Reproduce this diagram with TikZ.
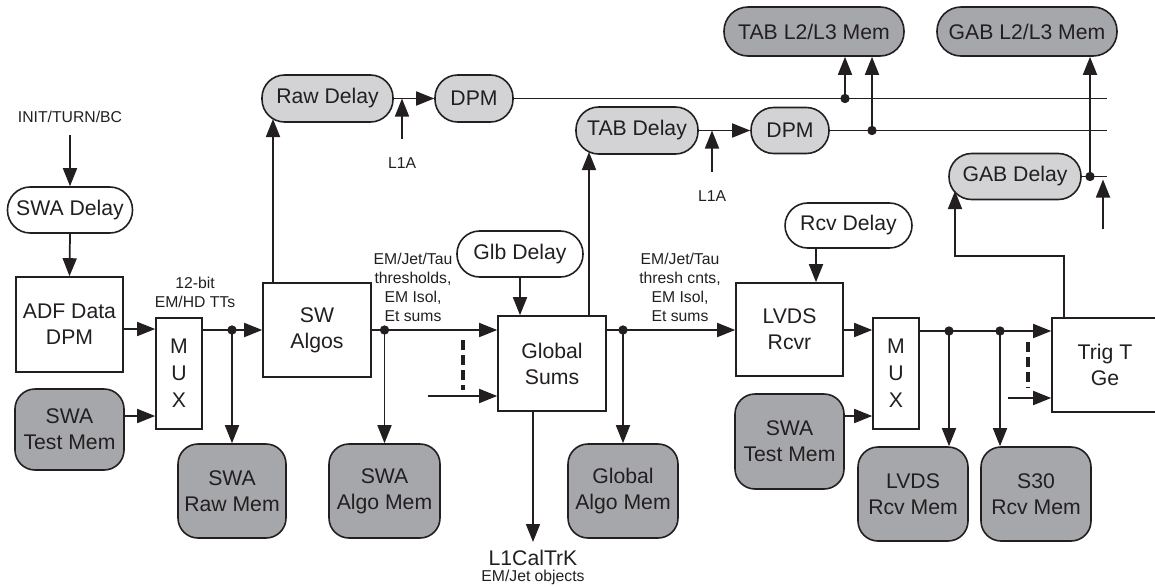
\documentclass[tikz,border=0pt]{standalone}
\usepackage{fontspec}
\setmainfont{Liberation Sans}
\usetikzlibrary{arrows.meta}
\definecolor{ink}{RGB}{35,31,32}
\definecolor{memgray}{RGB}{166,167,170}
\definecolor{delgray}{RGB}{211,211,213}
\begin{document}
\begin{tikzpicture}[x=0.75pt,y=-0.75pt,
  every node/.style={text=ink, font=\fontsize{15.9}{19.5}\selectfont, align=center, inner sep=0pt},
  small/.style={font=\fontsize{11.8}{14.3}\selectfont},
  line/.style={draw=ink, line width=1.3pt},
  arr/.style={line, -{Triangle[length=13.5pt,width=10.5pt]}},
  sqbox/.style={draw=ink, line width=1.2pt, fill=white},
  pillw/.style={draw=ink, line width=1.2pt, fill=white, rounded corners=17pt},
  pilll/.style={draw=ink, line width=1.2pt, fill=delgray, rounded corners=17pt},
  pilld/.style={draw=ink, line width=1.2pt, fill=memgray, rounded corners=18pt},
  membox/.style={draw=ink, line width=1.2pt, fill=memgray, rounded corners=15pt},
  muxbox/.style={sqbox, font=\fontsize{15.9}{20.3}\selectfont},
  dashv/.style={draw=ink, line width=2.8pt, dash pattern=on 7.5pt off 3.75pt},
  dot/.style={fill=ink}
]
\useasboundingbox (0,0) rectangle (1155,586);
\clip (0,0) rectangle (1155,586);

% ---- nodes ----
\node[small] (init) at (70,117) {INIT/TURN/BC};
\node[pillw, minimum width=93.75pt, minimum height=34.5pt] (swad) at (70,210) {SWA Delay};
\node[sqbox, minimum width=80.25pt, minimum height=71.25pt] (adf) at (69.5,324.5) {ADF Data\\DPM};
\node[muxbox, minimum width=34.5pt, minimum height=83.25pt] (mux1) at (179,373.5) {M\\U\\X};
\node[membox, minimum width=81.75pt, minimum height=60.75pt] (swatm1) at (69.5,429.5) {SWA\\Test Mem};
\node[sqbox, minimum width=81pt, minimum height=70.5pt] (sw) at (317,330) {SW\\Algos};
\node[membox, minimum width=81pt, minimum height=70.5pt] (rawmem) at (232,491) {SWA\\Raw Mem};
\node[membox, minimum width=83.25pt, minimum height=70.5pt] (algomem) at (384.5,491) {SWA\\Algo Mem};
\node[pilll, minimum width=98.25pt, minimum height=35.25pt] (rawd) at (327.5,98.5) {Raw Delay};
\node[pilll, minimum width=58.5pt, minimum height=35.25pt] (dpm1) at (474,98.5) {DPM};
\node[pillw, minimum width=94.5pt, minimum height=34.5pt] (glbd) at (520,254) {Glb Delay};
\node[sqbox, minimum width=81pt, minimum height=71.25pt] (gs) at (552,363.5) {Global\\Sums};
\node[membox, minimum width=82.5pt, minimum height=70.5pt] (galgomem) at (623,491) {Global\\Algo Mem};
\node[pilll, minimum width=91.5pt, minimum height=35.25pt] (tabd) at (637,130.5) {TAB Delay};
\node[pilll, minimum width=58.5pt, minimum height=34.5pt] (dpm2) at (790,130.5) {DPM};
\node[pilld, minimum width=135pt, minimum height=36.75pt] (tabl2) at (814,31.5) {TAB L2/L3 Mem};
\node[pilld, minimum width=135pt, minimum height=36.75pt] (gabl2) at (1027,31.5) {GAB L2/L3 Mem};
\node[pilll, minimum width=99pt, minimum height=34.5pt] (gabd) at (1015,176.5) {GAB Delay};
\node[pillw, minimum width=95.25pt, minimum height=33.75pt] (rcvd) at (848.5,225.5) {Rcv Delay};
\node[sqbox, minimum width=80.25pt, minimum height=69.75pt] (lvds) at (789.5,329.5) {LVDS\\Rcvr};
\node[muxbox, minimum width=34.5pt, minimum height=83.25pt] (mux2) at (896,373.5) {M\\U\\X};
\node[membox, minimum width=81.75pt, minimum height=71.25pt] (swatm2) at (789.5,441.5) {SWA\\Test Mem};
\node[membox, minimum width=82.5pt, minimum height=70.5pt] (lvdsmem) at (913,494) {LVDS\\Rcv Mem};
\node[membox, minimum width=82.5pt, minimum height=70.5pt] (s30mem) at (1036,494) {S30\\Rcv Mem};
\node[sqbox, minimum width=79.5pt, minimum height=70.5pt] (trig) at (1105,365) {Trig T\\Ge};

\node[small] (lab1) at (195,292.5) {12-bit\\EM/HD TTs};
\node[small] (lab2) at (413,287) {EM/Jet/Tau\\thresholds,\\EM Isol,\\Et sums};
\node[small] (lab3) at (680,287) {EM/Jet/Tau\\thresh cnts,\\EM Isol,\\Et sums};
\node[small] (l1a) at (402,163) {L1A};
\node[small] (l1b) at (712,196) {L1A};
\node (l1cal) at (533,558) {L1CalTrK};
\node[small] (emjet) at (533,577) {EM/Jet objects};

% ---- coordinates ----
\coordinate (yA) at (0,329);
\coordinate (yB) at (0,416);
\coordinate (yC) at (0,330);
\coordinate (yD) at (0,331);
\coordinate (endA) at (1107,0);
\coordinate (rawin) at (273,119);
\coordinate (tabin) at (589,152);
\coordinate (d4) at (845,98.5);
\coordinate (d5) at (872,130.5);
\coordinate (d6) at (1090,176.5);
\coordinate (gin) at (1103,229);
\coordinate (gtip) at (1103,179.5);
\coordinate (tg1) at (1064,256);
\coordinate (gabin) at (955,191);
\coordinate (da1) at (463,340);
\coordinate (da2) at (463,390);
\coordinate (ga) at (428,396);
\coordinate (l1c) at (533,542);
\coordinate (lvx) at (816,0);
\coordinate (d7) at (949,331);
\coordinate (d8) at (1000,331);
\coordinate (db1) at (1028,342);
\coordinate (db2) at (1028,388);
\coordinate (ta) at (1008,398);

% ---- connectors, left part ----
\draw[arr] ([yshift=-9pt]init.south) -- (swad.north);
\draw[arr] (swad.south) -- (adf.north);
\draw[arr] (adf.east |- yA) -- (mux1.west |- yA);
\draw[arr] (swatm1.east |- yB) -- (mux1.west |- yB);
\draw[arr] (mux1.east |- sw.west) -- (sw.west);
\coordinate (d1) at (rawmem.north |- sw.west);
\draw[arr] (d1) -- (rawmem.north);
\fill[dot] (d1) circle[radius=3.5pt];
\draw[arr] (sw.north -| rawin) -- (rawin);
\draw[arr] (rawd.east) -- (dpm1.west);
\draw[arr] ([yshift=14pt]l1a.north) -- (l1a.north |- rawd.east);
\draw[line] (dpm1.east) -- (dpm1.east -| endA);
\draw[arr] (d4) -- (d4 |- tabl2.south);
\fill[dot] (d4) circle[radius=3.5pt];

% ---- middle ----
\draw[arr] (sw.east) -- (gs.west |- sw.east);
\coordinate (d2) at (algomem.north |- sw.east);
\draw[arr] (d2) -- (algomem.north);
\fill[dot] (d2) circle[radius=3.5pt];
\draw[arr] (glbd.south) -- (glbd.south |- gs.north);
\draw[dashv] (da1) -- (da2);
\draw[arr] (ga) -- (ga -| gs.west);
\draw[arr] (gs.south -| l1c) -- (l1c);
\draw[arr] (gs.north -| tabin) -- (tabin);
\draw[arr] (tabd.east) -- (dpm2.west);
\draw[arr] ([yshift=14pt]l1b.north) -- (l1b.north |- tabd.east);
\draw[line] (dpm2.east) -- (dpm2.east -| endA);
\draw[arr] (d5) -- (d5 |- tabl2.south);
\fill[dot] (d5) circle[radius=3.5pt];
\draw[arr] (gs.east |- yC) -- (lvds.west |- yC);
\coordinate (d3) at (galgomem.north |- yC);
\draw[arr] (d3) -- (galgomem.north);
\fill[dot] (d3) circle[radius=3.5pt];

% ---- right part ----
\draw[arr] (rcvd.south -| lvx) -- (lvds.north -| lvx);
\draw[arr] (lvds.east |- yC) -- (mux2.west |- yC);
\draw[arr] (swatm2.east |- yB) -- (mux2.west |- yB);
\draw[arr] (mux2.east |- yD) -- (trig.west |- yD);
\draw[arr] (d7) -- (d7 |- lvdsmem.north);
\draw[arr] (d8) -- (d8 |- s30mem.north);
\fill[dot] (d7) circle[radius=3.5pt];
\fill[dot] (d8) circle[radius=3.5pt];
\draw[dashv] (db1) -- (db2);
\draw[arr] (ta) -- (ta -| trig.west);
\draw[arr] (trig.north -| tg1) -- (tg1) -- (tg1 -| gabin) -- (gabin);
\draw[line] (gabd.east) -- (gabd.east -| endA);
\draw[arr] (d6) -- (d6 |- gabl2.south);
\fill[dot] (d6) circle[radius=3.5pt];
\draw[arr] (gin) -- (gtip);
\end{tikzpicture}
\end{document}
